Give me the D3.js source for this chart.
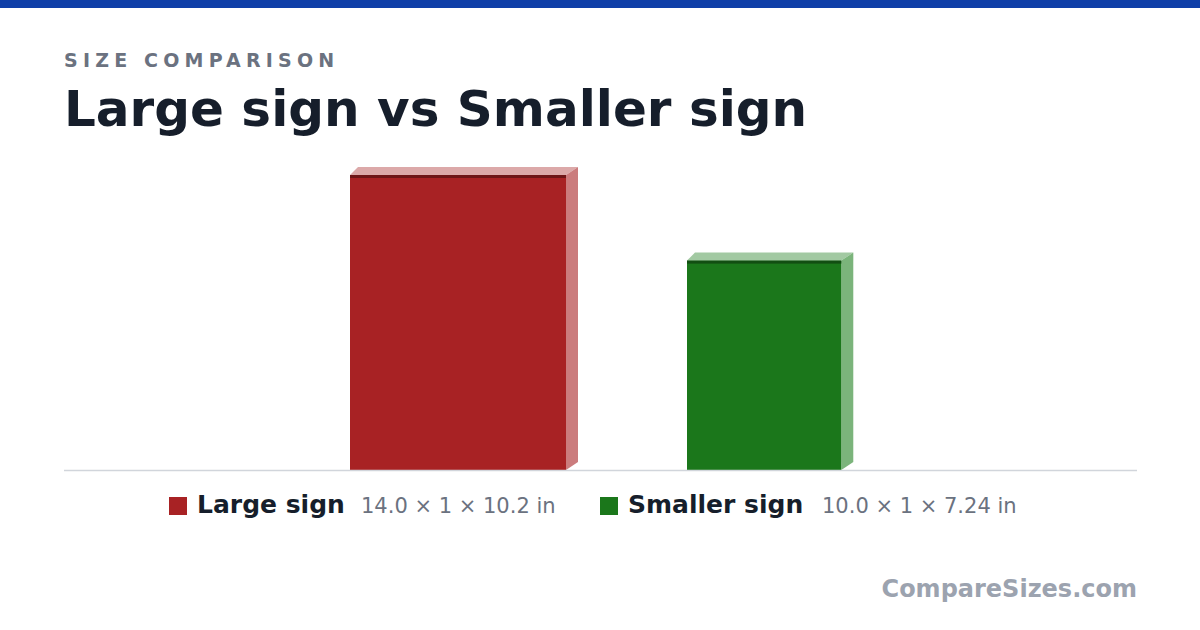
<!DOCTYPE html><html><head><meta charset="utf-8">
<script src="https://cdn.jsdelivr.net/npm/d3@7"></script>
<style>body{margin:0;background:#fff}svg{display:block;font-family:"DejaVu Sans",sans-serif}</style></head><body>
<svg id="c" width="1200" height="630"></svg>
<script>
const names=["Large sign","Smaller sign"];
const widths=[14.0,10.0];
const heights=[10.2,7.24];
const dims=["14.0 × 1 × 10.2 in","10.0 × 1 × 7.24 in"];
const colors=["#a82224","#1b771b"];
const tops=["#dca9a9","#a2c9a2"];
const sides=["#cb7c7d","#7bb47b"];
const darks=["#6e1617","#124e12"];
const svg=d3.select("#c");
svg.append("rect").attr("width",1200).attr("height",8).attr("fill","#0f3fa8");
svg.append("text").attr("x",64).attr("y",67).attr("fill","#6b7280").attr("font-size",19).attr("font-weight",700).attr("letter-spacing",5.2).text("SIZE COMPARISON");
svg.append("text").attr("x",64).attr("y",126).attr("fill","#161e2b").attr("font-size",50).attr("font-weight",700).text("Large sign  vs Smaller sign");
const base=470;
const xs=d3.scaleLinear().domain([0,14]).range([0,216]);
const ys=d3.scaleLinear().domain([0,10.2]).range([base,175]);
const lefts=[350,687];
const g=svg.append("g");
names.forEach((n,i)=>{
 const x=lefts[i],w=xs(widths[i]),y=ys(heights[i]);
 g.append("polygon").attr("points",`${x},${y} ${x+8},${y-8} ${x+w+12},${y-8} ${x+w},${y}`).attr("fill",tops[i]);
 g.append("polygon").attr("points",`${x+w},${y} ${x+w+12},${y-8} ${x+w+12},${base-8} ${x+w},${base}`).attr("fill",sides[i]);
 g.append("rect").attr("x",x).attr("y",y).attr("width",w).attr("height",base-y).attr("fill",colors[i]);
 g.append("rect").attr("x",x).attr("y",y).attr("width",w).attr("height",3).attr("fill",darks[i]);
});
svg.append("line").attr("x1",64).attr("x2",1137).attr("y1",470.5).attr("y2",470.5).attr("stroke","#d1d5db").attr("stroke-width",1.5);
const lg=[[169,197,361],[600,628,822]];
names.forEach((n,i)=>{
 svg.append("rect").attr("x",lg[i][0]).attr("y",497).attr("width",18).attr("height",18).attr("fill",colors[i]);
 svg.append("text").attr("x",lg[i][1]).attr("y",513).attr("font-size",25).attr("font-weight",700).attr("fill","#161e2b").text(n);
 svg.append("text").attr("x",lg[i][2]).attr("y",513).attr("font-size",21).attr("fill","#6b7280").text(dims[i]);
});
svg.append("text").attr("x",1137).attr("y",597).attr("text-anchor","end").attr("font-size",24).attr("font-weight",700).attr("fill","#9ca3af").text("CompareSizes.com");
</script></body></html>
